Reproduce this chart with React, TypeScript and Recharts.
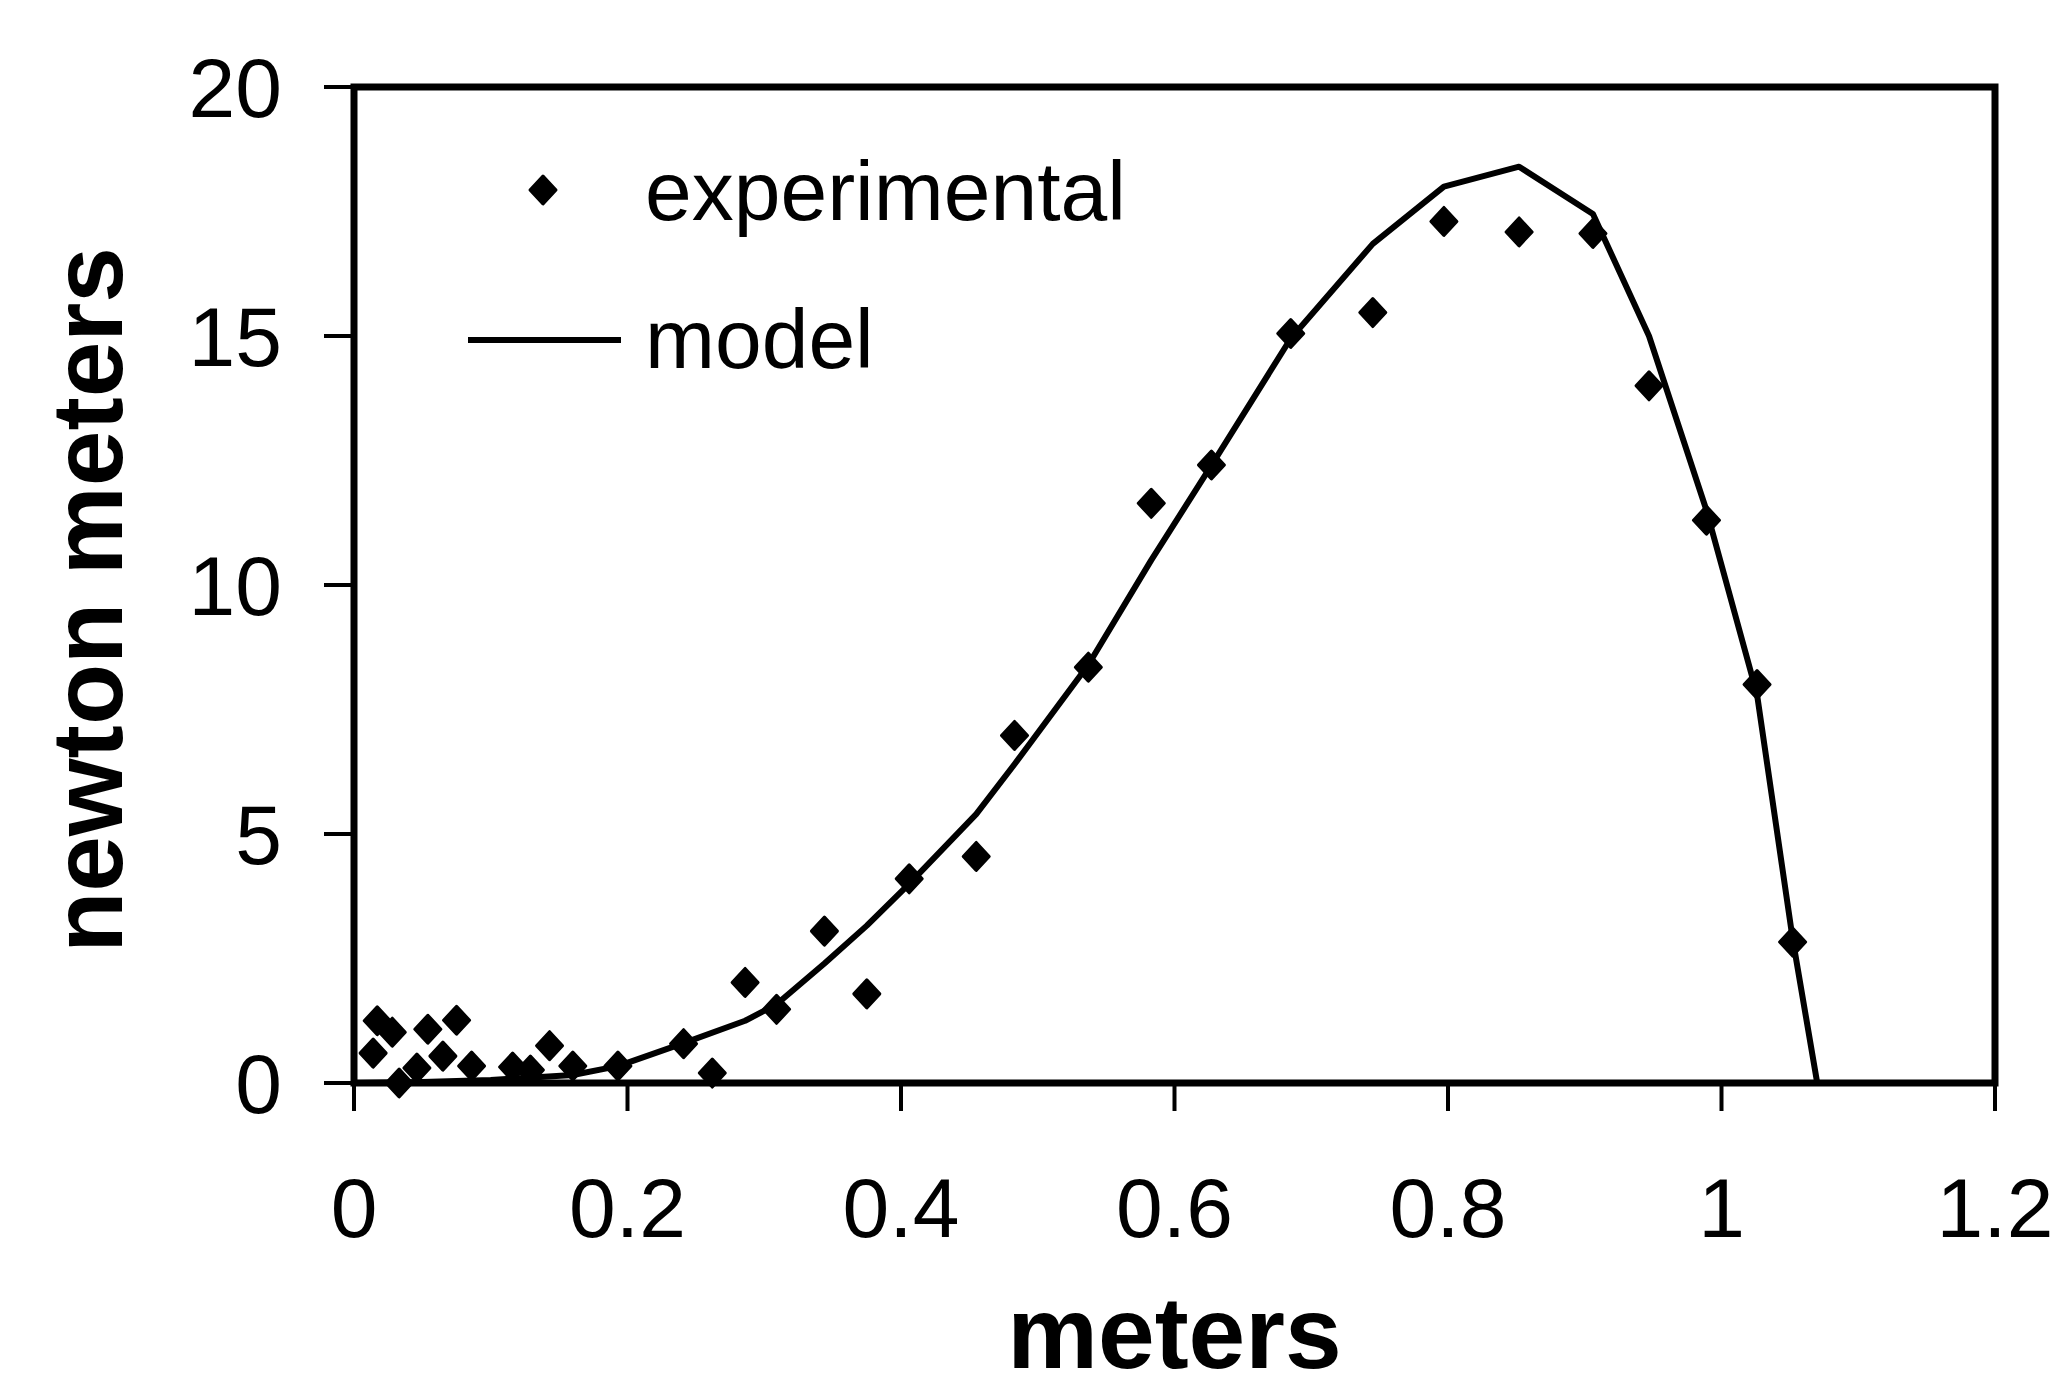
import React from 'react';
import { ComposedChart, XAxis, YAxis, Scatter, Line, ReferenceArea, Legend, Label } from 'recharts';

// experimental measurements (meters, newton meters)
const expX = [0.014, 0.017, 0.028, 0.033, 0.046, 0.054, 0.065, 0.075, 0.086, 0.116, 0.129, 0.143, 0.16, 0.193, 0.241, 0.262, 0.286, 0.309, 0.344, 0.375, 0.406, 0.455, 0.483, 0.537, 0.583, 0.627, 0.685, 0.745, 0.797, 0.852, 0.906, 0.947, 0.989, 1.026, 1.052];
const expY = [0.6, 1.25, 1.02, 0, 0.3, 1.08, 0.54, 1.26, 0.34, 0.32, 0.26, 0.75, 0.34, 0.34, 0.79, 0.2, 2.02, 1.48, 3.05, 1.79, 4.1, 4.55, 6.98, 8.35, 11.64, 12.41, 15.05, 15.47, 17.3, 17.09, 17.06, 14.0, 11.3, 8.0, 2.83];

// model curve
const modelX = [0, 0.05, 0.1, 0.16, 0.193, 0.241, 0.286, 0.309, 0.344, 0.375, 0.406, 0.455, 0.483, 0.537, 0.583, 0.627, 0.685, 0.745, 0.797, 0.852, 0.906, 0.947, 0.989, 1.026, 1.052, 1.07];
const modelY = [0, 0.02, 0.06, 0.16, 0.34, 0.8, 1.25, 1.58, 2.4, 3.16, 4.0, 5.4, 6.4, 8.4, 10.5, 12.4, 14.95, 16.85, 18.0, 18.4, 17.45, 15.0, 11.5, 7.8, 2.9, 0];

const xTicks = [0, 0.2, 0.4, 0.6, 0.8, 1, 1.2];
const yTicks = [0, 5, 10, 15, 20];
const expName = 'experimental';
const modelName = 'model';
const xTitle = 'meters';
const yTitle = 'newton meters';

const expData = expX.map((x, i) => ({ x, y: expY[i] }));
const modelData = modelX.map((x, i) => ({ x, y: modelY[i] }));

const FONT = '"Liberation Sans", Arial, Helvetica, sans-serif';

const Diamond = (props: any) => {
  const { cx, cy } = props;
  if (cx == null || cy == null) return null;
  return (
    <path
      d={`M${cx},${cy - 14} L${cx + 13},${cy} L${cx},${cy + 14} L${cx - 13},${cy} Z`}
      fill="#000"
      stroke="#000"
      strokeWidth={3}
      strokeLinejoin="round"
    />
  );
};

const renderLegend = (props: any) => {
  const payload = props.payload || [];
  return (
    <svg width={1300} height={420} style={{ display: 'block' }}>
      {payload.map((entry: any, i: number) => {
        const isLine = entry.type === 'line';
        if (isLine) {
          return (
            <g key={i}>
              <line x1={468} y1={340} x2={621} y2={340} stroke="#000" strokeWidth={6} />
              <text x={645} y={368} fontSize={84} fontFamily={FONT} fill="#000">{entry.value}</text>
            </g>
          );
        }
        return (
          <g key={i}>
            <Diamond cx={543} cy={190} />
            <text x={645} y={220} fontSize={84} fontFamily={FONT} fill="#000">{entry.value}</text>
          </g>
        );
      })}
    </svg>
  );
};

export default function App() {
  return (
    <div style={{ position: 'absolute', left: 0, top: 0, width: 2072, height: 1395, background: '#fff' }}>
      <ComposedChart width={2072} height={1395} margin={{ top: 87, right: 77, bottom: 0, left: 0 }}>
        <XAxis
          type="number"
          dataKey="x"
          domain={[0, 1.2]}
          ticks={xTicks}
          interval={0}
          height={312}
          tickSize={28}
          tickMargin={66}
          axisLine={false}
          tickLine={{ stroke: '#000', strokeWidth: 4 }}
          tick={{ fontSize: 84, fill: '#000', fontFamily: FONT }}
        >
          <Label
            content={(p: any) => {
              const vb = p.viewBox || { x: 354, width: 1641 };
              return (
                <text x={vb.x + vb.width / 2} y={1368} textAnchor="middle" fontSize={102} fontWeight="bold" fontFamily={FONT} fill="#000">
                  {xTitle}
                </text>
              );
            }}
          />
        </XAxis>
        <YAxis
          type="number"
          domain={[0, 20]}
          ticks={yTicks}
          interval={0}
          width={354}
          tickSize={30}
          tickMargin={42}
          axisLine={false}
          tickLine={{ stroke: '#000', strokeWidth: 4 }}
          tick={{ fontSize: 84, fill: '#000', fontFamily: FONT }}
        >
          <Label
            content={() => (
              <text transform="translate(122, 600) rotate(-90)" textAnchor="middle" fontSize={100} fontWeight="bold" fontFamily={FONT} fill="#000">
                {yTitle}
              </text>
            )}
          />
        </YAxis>
        <ReferenceArea x1={0} x2={1.2} y1={0} y2={20} fill="none" stroke="#000" strokeWidth={7} fillOpacity={0} />
        <Line
          name={modelName}
          data={modelData}
          dataKey="y"
          type="linear"
          stroke="#000"
          strokeWidth={6}
          strokeLinejoin="round"
          dot={false}
          activeDot={false}
          legendType="line"
          isAnimationActive={false}
        />
        <Scatter
          name={expName}
          data={expData}
          dataKey="y"
          shape={Diamond}
          legendType="diamond"
          isAnimationActive={false}
        />
        <Legend
          layout="vertical"
          align="center"
          verticalAlign="middle"
          content={renderLegend}
          wrapperStyle={{ left: 0, top: 0, width: 1300, height: 420 }}
        />
      </ComposedChart>
    </div>
  );
}
